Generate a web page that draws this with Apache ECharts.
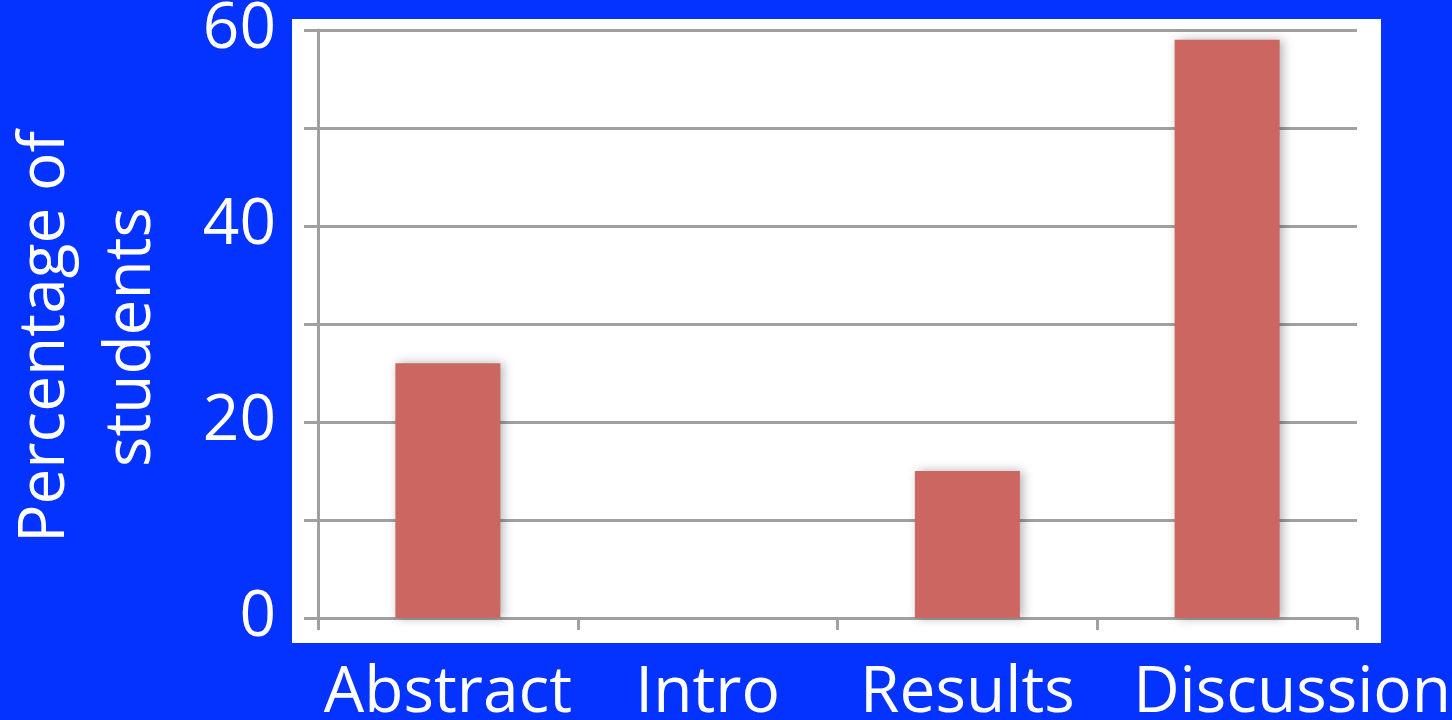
<!DOCTYPE html>
<html>
<head>
<meta charset="utf-8">
<script src="https://cdn.jsdelivr.net/npm/echarts@6/dist/echarts.min.js"></script>
<style>
  html, body { margin: 0; padding: 0; background: #0433ff; }
  #main { width: 1452px; height: 720px; }
</style>
</head>
<body>
<div id="main"></div>
<script>
// data
const categories = ["Abstract", "Intro", "Results", "Discussion"];
const percentages = [26, 0, 15, 59];
const yTicks = [0, 20, 40, 60];

const chart = echarts.init(document.getElementById("main"));

const option = {
  backgroundColor: "#0433ff",
  textStyle: { fontFamily: "Open Sans" },
  // white panel behind the plot
  graphic: [
    {
      type: "rect",
      z: -10,
      shape: { x: 292, y: 19, width: 1089, height: 624 },
      style: { fill: "#ffffff" },
    },
  ],
  grid: { left: 318, right: 95, top: 30, bottom: 102, containLabel: false, outerBoundsMode: "none" },
  xAxis: {
    type: "category",
    data: categories,
    boundaryGap: true,
    axisLine: { lineStyle: { color: "#a0a0a0", width: 3 } },
    axisTick: { show: true, alignWithLabel: false, length: 12, lineStyle: { color: "#a0a0a0", width: 3 } },
    axisLabel: {
      interval: 0,
      hideOverlap: false,
      color: "#ffffff",
      fontSize: 64,
      margin: 44,
      formatter: (v) => (v === "Discussion" ? "{d|" + v + "}" : v),
      rich: {
        d: { color: "#ffffff", fontSize: 64, fontFamily: "Open Sans", padding: [0, 0, 0, 130] },
      },
    },
  },
  yAxis: {
    type: "value",
    min: 0,
    max: 60,
    interval: 10,
    name: "Percentage of\nstudents",
    nameLocation: "middle",
    nameGap: 143,
    nameRotate: 90,
    nameTextStyle: { color: "#ffffff", fontSize: 64, lineHeight: 86, padding: [0, 26, 0, 0] },
    axisLine: { show: true, lineStyle: { color: "#a0a0a0", width: 3 } },
    axisTick: { show: true, length: 14, lineStyle: { color: "#a0a0a0", width: 3 } },
    splitLine: { lineStyle: { color: "#a0a0a0", width: 3 } },
    axisLabel: {
      color: "#ffffff",
      fontSize: 64,
      margin: 42,
      formatter: (v) => (yTicks.includes(v) ? String(v) : ""),
    },
  },
  series: [
    {
      type: "bar",
      data: percentages,
      barWidth: 105,
      itemStyle: {
        color: "#cb6660",
        shadowColor: "rgba(0,0,0,0.3)",
        shadowBlur: 10,
        shadowOffsetX: 3,
      },
    },
  ],
};

chart.setOption(option);
</script>
</body>
</html>
